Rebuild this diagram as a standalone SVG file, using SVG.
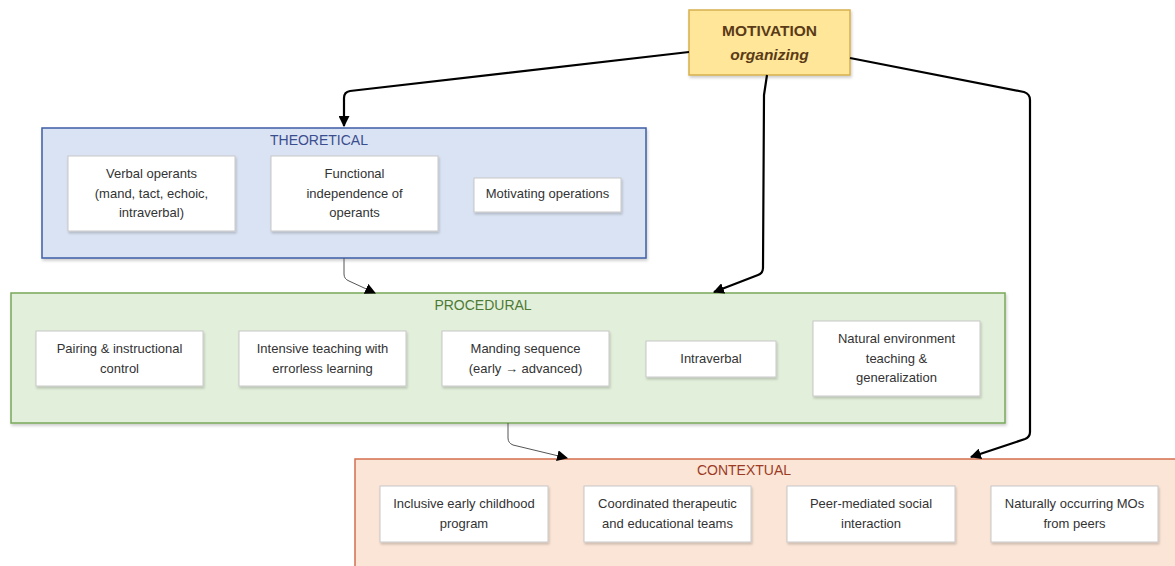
<svg xmlns="http://www.w3.org/2000/svg" width="1175" height="566" viewBox="0 0 1175 566">
<style>
.card{fill:#ffffff;stroke:#c8c8c8;stroke-width:1;filter:url(#sh)}
.t{font-family:"Liberation Sans",Arial,sans-serif;font-size:13px;fill:#333333;text-anchor:middle}
.ttl{font-family:"Liberation Sans",Arial,sans-serif;font-size:14px;text-anchor:middle}
.thick{fill:none;stroke:#000;stroke-width:2.2;stroke-linejoin:round}
.thin{fill:none;stroke:#555;stroke-width:1}
</style>
<defs>
<filter id="sh" x="-10%" y="-10%" width="130%" height="140%">
<feDropShadow dx="1" dy="2" stdDeviation="1.2" flood-color="#000" flood-opacity="0.18"/>
</filter>
<filter id="sh2" x="-10%" y="-10%" width="130%" height="140%">
<feDropShadow dx="1" dy="2" stdDeviation="1.5" flood-color="#000" flood-opacity="0.2"/>
</filter>
<marker id="ah" viewBox="0 0 10 10" refX="9" refY="5" markerWidth="5" markerHeight="5" orient="auto-start-reverse" markerUnits="strokeWidth">
<path d="M0,0 L10,5 L0,10 z" fill="#000"/>
</marker>
<marker id="ah2" viewBox="0 0 10 10" refX="9" refY="5" markerWidth="11" markerHeight="11" orient="auto" markerUnits="strokeWidth">
<path d="M0,0 L10,5 L0,10 z" fill="#000"/>
</marker>
</defs>
<rect width="1175" height="566" fill="#ffffff"/>

<g id="theoretical">
<rect x="42" y="128" width="604" height="130" fill="#dae3f3" stroke="#3c5ea6" stroke-width="1.5" filter="url(#sh2)"/>
<text class="ttl" x="319" y="145" fill="#3a4d8f">THEORETICAL</text>
</g>
<g id="verbal-operants">
<rect class="card" x="68" y="156" width="167" height="75"/>
<text class="t" x="151.5" y="178">Verbal operants</text>
<text class="t" x="151.5" y="197.5">(mand, tact, echoic,</text>
<text class="t" x="151.5" y="217">intraverbal)</text>
</g>
<g id="functional-independence">
<rect class="card" x="271" y="156" width="167" height="75"/>
<text class="t" x="354.5" y="178">Functional</text>
<text class="t" x="354.5" y="197.5">independence of</text>
<text class="t" x="354.5" y="217">operants</text>
</g>
<g id="motivating-operations">
<rect class="card" x="474" y="178" width="147" height="34"/>
<text class="t" x="547.5" y="197.5">Motivating operations</text>
</g>

<g id="procedural">
<rect x="11" y="293" width="994" height="130" fill="#e2efda" stroke="#78a85a" stroke-width="1.5" filter="url(#sh2)"/>
<text class="ttl" x="483" y="310" fill="#4d7a35">PROCEDURAL</text>
</g>
<g id="pairing">
<rect class="card" x="36" y="331" width="167" height="55"/>
<text class="t" x="119.5" y="353">Pairing &amp; instructional</text>
<text class="t" x="119.5" y="372.5">control</text>
</g>
<g id="intensive-teaching">
<rect class="card" x="239" y="331" width="167" height="55"/>
<text class="t" x="322.5" y="353">Intensive teaching with</text>
<text class="t" x="322.5" y="372.5">errorless learning</text>
</g>
<g id="manding-sequence">
<rect class="card" x="442" y="331" width="167" height="55"/>
<text class="t" x="525.5" y="353">Manding sequence</text>
<text class="t" x="525.5" y="372.5">(early → advanced)</text>
</g>
<g id="intraverbal">
<rect class="card" x="646" y="341" width="130" height="36"/>
<text class="t" x="711" y="363">Intraverbal</text>
</g>
<g id="natural-environment">
<rect class="card" x="813" y="321" width="167" height="75"/>
<text class="t" x="896.5" y="343">Natural environment</text>
<text class="t" x="896.5" y="362.5">teaching &amp;</text>
<text class="t" x="896.5" y="382">generalization</text>
</g>

<g id="contextual">
<rect x="355" y="459" width="830" height="120" fill="#fbe5d6" stroke="#d46f4d" stroke-width="1.5"/>
<text class="ttl" x="744" y="475" fill="#9c3b25">CONTEXTUAL</text>
</g>
<g id="inclusive-program">
<rect class="card" x="380" y="486" width="168" height="56"/>
<text class="t" x="464" y="508">Inclusive early childhood</text>
<text class="t" x="464" y="527.5">program</text>
</g>
<g id="coordinated-teams">
<rect class="card" x="584" y="486" width="167" height="56"/>
<text class="t" x="667.5" y="508">Coordinated therapeutic</text>
<text class="t" x="667.5" y="527.5">and educational teams</text>
</g>
<g id="peer-mediated">
<rect class="card" x="787" y="486" width="168" height="56"/>
<text class="t" x="871" y="508">Peer-mediated social</text>
<text class="t" x="871" y="527.5">interaction</text>
</g>
<g id="naturally-occurring-mos">
<rect class="card" x="991" y="486" width="167" height="56"/>
<text class="t" x="1074.5" y="508">Naturally occurring MOs</text>
<text class="t" x="1074.5" y="527.5">from peers</text>
</g>

<g id="motivation">
<rect x="689" y="10" width="161" height="65" fill="#ffe699" stroke="#d6b04e" stroke-width="1.5" filter="url(#sh2)"/>
<text class="ttl" x="769.5" y="36" fill="#5a3b17" font-weight="bold" style="font-size:15.5px">MOTIVATION</text>
<text class="ttl" x="769.5" y="60" fill="#5a3b17" font-weight="bold" font-style="italic" style="font-size:15.5px">organizing</text>
</g>

<g id="connectors">
<path class="thick" d="M689,52 L350,91 Q344,92 344,98 L344,126" marker-end="url(#ah)"/>
<path class="thick" d="M767,75 L764,95 L763,268 Q763,273 758,275 L714,292" marker-end="url(#ah)"/>
<path class="thick" d="M850,58 L1024,92 Q1030,94 1030,100 L1030,432 Q1030,437 1025,439 L971,457" marker-end="url(#ah)"/>
<path class="thin" d="M344,258 L344,274 Q344,279 349,281 L375,293" marker-end="url(#ah2)"/>
<path class="thin" d="M508,423 L508,438 Q508,443 513,445 L567,458" marker-end="url(#ah2)"/>
</g>
</svg>
